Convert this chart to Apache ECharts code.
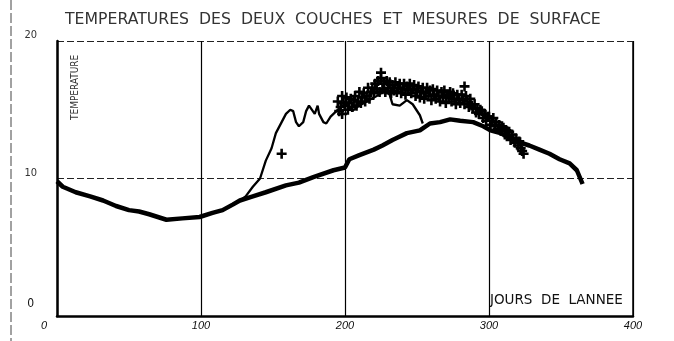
<!DOCTYPE html>
<html lang="fr">
<head>
    <meta charset="UTF-8">
    <title>Températures des deux couches</title>
    <script type="text/javascript" src="https://cdn.jsdelivr.net/npm/echarts@6/dist/echarts.min.js"></script>
    <style>
        html, body { margin: 0; padding: 0; background: #fff; }
    </style>
</head>
<body>
<div id="chart" style="width: 674px;height:341px;"></div>
<script type="text/javascript">

    // axes
    const xTicks = [0, 100, 200, 300, 400];
    const yTicks = [0, 10, 20];

    // couche profonde (trait épais) : [jour, température]
    const coucheEpaisse = [
        [0, 9.8], [4, 9.4], [13, 9.0], [23, 8.7], [32, 8.4], [41, 8.0], [50, 7.7], [57, 7.6],
        [64, 7.4], [76, 7.0], [87, 7.1], [99, 7.2], [108, 7.5], [115, 7.7], [122, 8.1], [127, 8.4],
        [136, 8.7], [145, 9.0], [159, 9.5], [168, 9.7], [178, 10.1], [192, 10.6], [200, 10.8],
        [203, 11.4], [210, 11.7], [220, 12.1], [226, 12.4], [233, 12.8], [237, 13.0], [243, 13.3],
        [252, 13.5], [259, 14.0], [266, 14.1], [273, 14.3], [280, 14.2], [289, 14.1], [296, 13.8],
        [301, 13.5], [308, 13.3], [315, 12.9], [322, 12.6], [328, 12.4], [335, 12.1], [342, 11.8],
        [349, 11.4], [356, 11.1], [361, 10.6], [365, 9.6]
    ];

    // couche de surface (trait fin)
    const coucheFine = [
        [127, 8.4], [131, 8.7], [136, 9.4], [141, 10.0], [145, 11.3], [149, 12.2], [152, 13.3],
        [156, 14.1], [159, 14.7], [162, 15.0], [164, 14.9], [166, 14.1], [168, 13.8], [171, 14.1],
        [173, 14.9], [175, 15.3], [179, 14.7], [181, 15.3], [182, 14.7], [185, 14.1], [187, 14.0],
        [190, 14.5], [196, 15.1], [201, 15.4], [205, 14.9], [210, 15.3], [215, 15.6], [222, 16.0],
        [228, 16.4], [231, 16.1], [233, 15.4], [238, 15.3], [243, 15.7], [247, 15.4], [252, 14.6],
        [254, 14.0]
    ];

    // mesures de surface, un point par jour à partir du jour 195
    const mesuresDebut = 195;
    const mesures = [
        15.6, 14.9, 15.2, 14.7, 15.5,
        15.3, 15.9, 15.0, 15.5, 15.8, 15.2, 15.7, 16.0, 15.3, 15.6,
        16.3, 15.5, 15.9, 16.2, 15.6, 16.0, 16.6, 15.8, 16.3, 16.6,
        16.2, 16.9, 16.5, 17.1, 16.3, 17.3, 16.5, 16.9, 16.3, 17.1,
        16.6, 17.0, 16.2, 16.8, 16.4, 17.0, 16.3, 16.6, 16.9, 16.2,
        16.5, 16.9, 16.1, 16.7, 16.4, 16.9, 16.2, 16.5, 16.8, 16.0,
        16.4, 16.7, 15.9, 16.3, 16.6, 15.8, 16.2, 16.6, 16.0, 16.4,
        15.7, 16.5, 16.1, 15.8, 16.4, 16.0, 15.6, 16.3, 15.9, 16.4,
        15.5, 16.1, 15.9, 16.3, 15.6, 16.2, 15.8, 15.4, 16.1, 15.7,
        15.5, 16.1, 15.8, 15.4, 16.0, 15.6, 15.2, 15.8, 15.3, 15.1,
        15.4, 14.8, 15.1, 14.7, 15.0, 14.9, 14.4, 14.7, 14.2, 14.5,
        14.5, 13.9, 14.2, 14.4, 13.8, 14.1, 13.6, 13.9, 13.5, 13.8,
        13.7, 13.2, 13.5, 13.1, 13.4, 12.8, 13.2, 12.9, 12.6, 12.9,
        12.4, 12.7, 12.2, 12.0, 11.8
    ];
    // mesures isolées
    const mesuresIsolees = [[156, 11.8], [198, 16.0], [225, 17.7], [283, 16.7]];

    const plus = 'path://M3.7,0h2.6v10h-2.6z M0,3.7h10v2.6h-10z';

    function buildMesures() {
        let pts = mesures.map((v, i) => [mesuresDebut + i, v]);
        return pts.concat(mesuresIsolees);
    }

    let option = {
        backgroundColor: '#fff',
        animation: false,
        title: {
            text: 'TEMPERATURES  DES  DEUX  COUCHES  ET  MESURES  DE  SURFACE',
            left: 60,
            top: 7,
            textStyle: {
                fontFamily: 'DejaVu Sans',
                fontWeight: 'normal',
                fontSize: 15.7,
                color: '#333'
            }
        },
        grid: {
            left: 57,
            right: 41,
            top: 41,
            bottom: 25
        },
        xAxis: {
            type: 'value',
            min: xTicks[0],
            max: xTicks[xTicks.length - 1],
            interval: 100,
            axisLine: { lineStyle: { color: '#000', width: 2.5 } },
            axisTick: { show: false },
            axisLabel: {
                margin: 4,
                fontFamily: 'Liberation Sans',
                fontStyle: 'italic',
                fontSize: 11,
                color: '#111',
                formatter: function (v) {
                    return v === 0 ? '{z|0}' : String(v);
                },
                rich: {
                    z: { padding: [0, 26, 0, 0], fontStyle: 'italic', fontSize: 11, color: '#111' }
                }
            },
            splitLine: { show: true, lineStyle: { color: '#000', width: 1.2 } }
        },
        yAxis: {
            type: 'value',
            min: yTicks[0],
            max: yTicks[yTicks.length - 1],
            interval: 10,
            axisLine: { show: true, lineStyle: { color: '#000', width: 2.5 } },
            axisTick: { show: false },
            axisLabel: {
                margin: 20,
                fontFamily: 'DejaVu Sans Condensed',
                fontSize: 11,
                color: '#333',
                verticalAlign: 'bottom',
                formatter: function (v) {
                    return v === 0 ? '{z|0}' : String(v);
                },
                rich: {
                    z: { padding: [0, 3, 6, 0], fontSize: 12, color: '#111' }
                }
            },
            splitLine: { show: true, lineStyle: { color: '#222', width: 1, type: [7, 3] } }
        },
        graphic: [
            {
                type: 'line',
                shape: { x1: 11, y1: 0, x2: 11, y2: 341 },
                style: { stroke: '#444', lineWidth: 1, lineDash: [10, 3] }
            },
            {
                type: 'line',
                shape: { x1: 633, y1: 41, x2: 633, y2: 316 },
                style: { stroke: '#000', lineWidth: 1.5 }
            },
            {
                type: 'text',
                x: 70,
                y: 120,
                rotation: Math.PI / 2,
                style: {
                    text: 'TEMPERATURE',
                    fontFamily: 'DejaVu Sans Condensed',
                    fontSize: 10,
                    fill: '#333'
                }
            },
            {
                type: 'text',
                x: 490,
                y: 293,
                style: {
                    text: 'JOURS  DE  LANNEE',
                    fontFamily: 'DejaVu Sans',
                    fontSize: 13.5,
                    fill: '#111'
                }
            }
        ],
        series: [
            {
                name: 'couche profonde',
                type: 'line',
                data: coucheEpaisse,
                showSymbol: false,
                lineStyle: { color: '#000', width: 4.5 }
            },
            {
                name: 'couche de surface',
                type: 'line',
                data: coucheFine,
                showSymbol: false,
                lineStyle: { color: '#000', width: 2.3 }
            },
            {
                name: 'mesures',
                type: 'scatter',
                data: buildMesures(),
                symbol: plus,
                symbolSize: 10,
                itemStyle: { color: '#000', opacity: 1 }
            }
        ]
    };
    echarts.init(document.getElementById('chart')).setOption(option);
</script>
</body>
</html>
